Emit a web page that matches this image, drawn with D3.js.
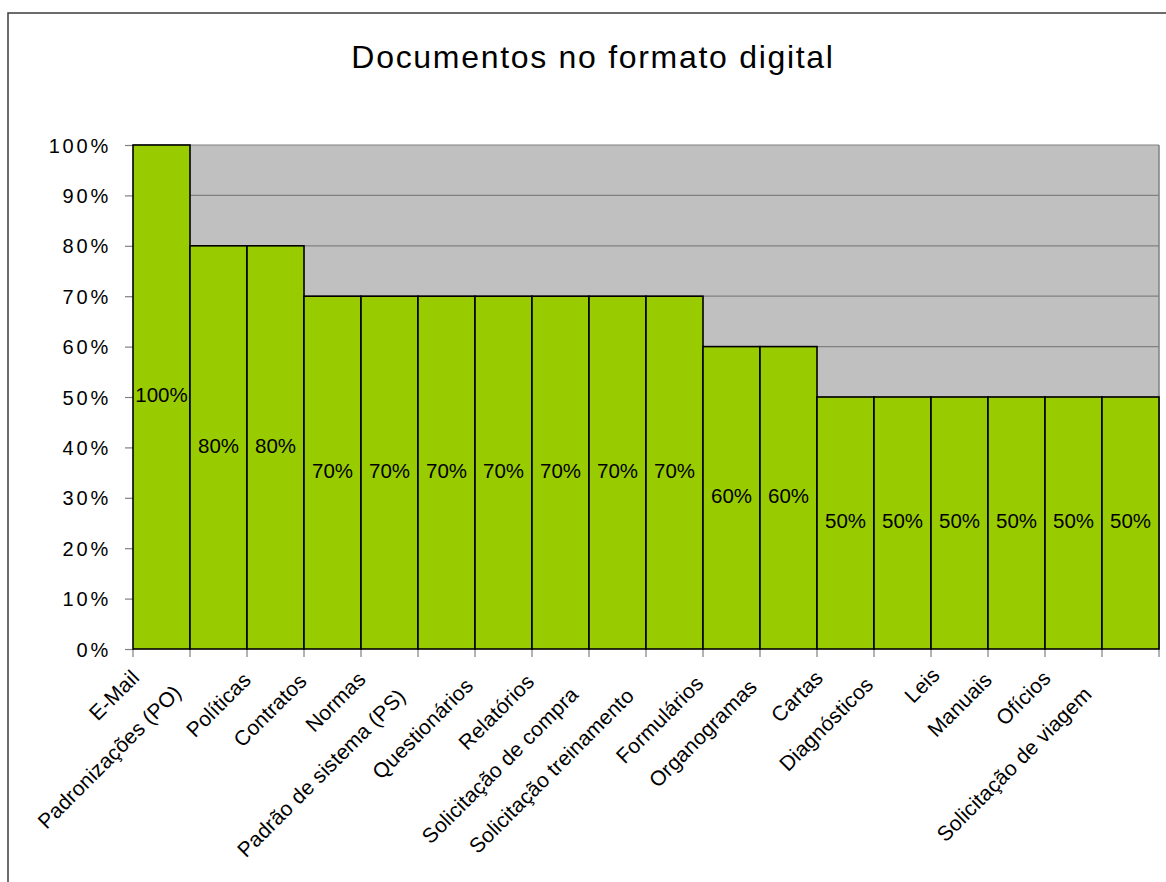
<!DOCTYPE html>
<html>
<head>
<meta charset="utf-8">
<script src="https://cdn.jsdelivr.net/npm/d3@7"></script>
<style>
  html, body { margin: 0; padding: 0; background: #fff; }
  svg { display: block; font-family: "Liberation Sans", Arial, sans-serif; }
</style>
</head>
<body>
<svg id="chart" width="1166" height="882"></svg>
<script>
// Document types and share available in digital format
const categories = [
  "E-Mail", "Padronizações (PO)", "Políticas", "Contratos", "Normas",
  "Padrão de sistema (PS)", "Questionários", "Relatórios",
  "Solicitação de compra", "Solicitação treinamento", "Formulários",
  "Organogramas", "Cartas", "Diagnósticos", "Leis", "Manuais",
  "Ofícios", "Solicitação de viagem"
];
const values = [1.0, 0.8, 0.8, 0.7, 0.7, 0.7, 0.7, 0.7, 0.7, 0.7, 0.6, 0.6, 0.5, 0.5, 0.5, 0.5, 0.5, 0.5];
const yTicks = [0, 0.1, 0.2, 0.3, 0.4, 0.5, 0.6, 0.7, 0.8, 0.9, 1.0];
const title = "Documentos no formato digital";

const svg = d3.select("#chart");
const plot = { left: 133, right: 1159, top: 145, bottom: 649 };

const x = d3.scaleBand().domain(categories).range([plot.left, plot.right]).padding(0);
const y = d3.scaleLinear().domain([0, 1]).range([plot.bottom, plot.top]);
const pct = d3.format(".0%");

// chart frame
svg.append("rect")
  .attr("x", 8).attr("y", 13)
  .attr("width", 1200).attr("height", 900)
  .attr("fill", "none").attr("stroke", "#3c3c3c").attr("stroke-width", 1.5);

// title
svg.append("text")
  .attr("x", 593).attr("y", 68)
  .attr("text-anchor", "middle")
  .attr("font-size", 32)
  .attr("letter-spacing", 1.7)
  .attr("fill", "#000")
  .text(title);

// plot background
svg.append("rect")
  .attr("x", plot.left).attr("y", plot.top)
  .attr("width", plot.right - plot.left).attr("height", plot.bottom - plot.top)
  .attr("fill", "#c0c0c0");

// gridlines
svg.append("g")
  .selectAll("line")
  .data(yTicks.filter(d => d > 0))
  .join("line")
  .attr("x1", plot.left).attr("x2", plot.right)
  .attr("y1", d => y(d)).attr("y2", d => y(d))
  .attr("stroke", "#808080").attr("stroke-width", 1.2);

// plot border (right side)
svg.append("line")
  .attr("x1", plot.right).attr("x2", plot.right)
  .attr("y1", plot.top).attr("y2", plot.bottom)
  .attr("stroke", "#808080").attr("stroke-width", 1.5);

// y axis
const yAxis = svg.append("g")
  .attr("transform", `translate(${plot.left},0)`)
  .call(d3.axisLeft(y).tickValues(yTicks).tickFormat(pct).tickSize(8).tickPadding(14));
yAxis.select(".domain").attr("stroke", "#808080");
yAxis.selectAll(".tick line").attr("stroke", "#808080").attr("stroke-width", 1.2);
yAxis.selectAll(".tick text")
  .attr("font-size", 20)
  .attr("letter-spacing", 2.8)
  .attr("font-family", "Liberation Sans, Arial, sans-serif")
  .attr("fill", "#000")
  .attr("dy", "0.35em");

// x axis ticks at band boundaries
const bounds = categories.map(c => x(c)).concat([plot.right]);
svg.append("g")
  .selectAll("line")
  .data(bounds)
  .join("line")
  .attr("x1", d => d).attr("x2", d => d)
  .attr("y1", plot.bottom).attr("y2", plot.bottom + 8)
  .attr("stroke", "#808080").attr("stroke-width", 1.2);

// bars
svg.append("g")
  .selectAll("rect")
  .data(categories)
  .join("rect")
  .attr("x", c => x(c))
  .attr("y", (c, i) => y(values[i]))
  .attr("width", x.bandwidth())
  .attr("height", (c, i) => y(0) - y(values[i]))
  .attr("fill", "#99cc00")
  .attr("stroke", "#000")
  .attr("stroke-width", 1.6);

// value labels in the middle of each bar
svg.append("g")
  .selectAll("text")
  .data(categories)
  .join("text")
  .attr("x", c => x(c) + x.bandwidth() / 2)
  .attr("y", (c, i) => y(values[i] / 2) - 2)
  .attr("dy", "0.35em")
  .attr("text-anchor", "middle")
  .attr("font-size", 20.5)
  .attr("fill", "#000")
  .text((c, i) => pct(values[i]));

// rotated category labels
const catLabels = svg.append("g")
  .selectAll("text")
  .data(categories)
  .join("text")
  .attr("transform", c => `translate(${x(c) + x.bandwidth() / 2 - 14},672) rotate(-45)`)
  .attr("text-anchor", "end")
  .attr("font-size", 21)
  .attr("letter-spacing", 0.2)
  .attr("fill", "#000")
  .text(c => c);
catLabels.attr("x", function () { return -0.16 * this.getComputedTextLength(); });
</script>
</body>
</html>
